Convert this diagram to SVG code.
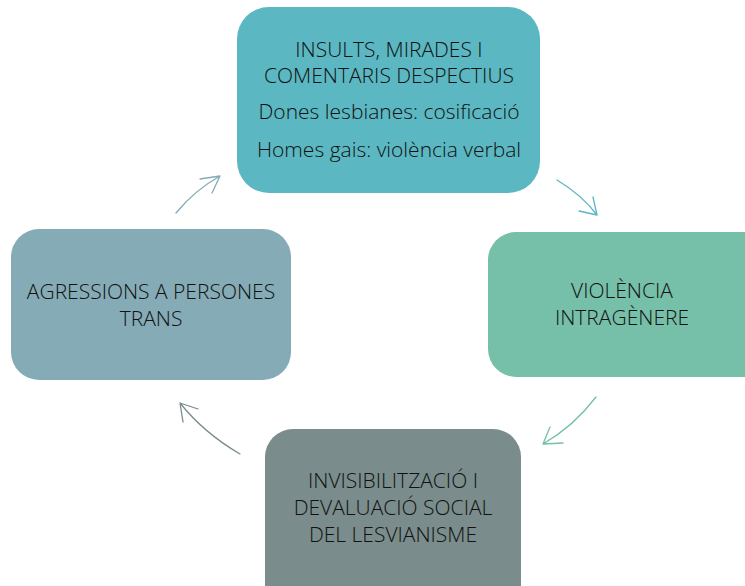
<svg xmlns="http://www.w3.org/2000/svg" width="745" height="586" viewBox="0 0 745 586">
<style>
text{font-family:"Open Sans","Noto Sans",sans-serif;font-weight:300;font-size:21px;fill:#111;text-anchor:middle}
.c{fill:none;stroke-width:1.3;stroke-linecap:round;stroke-linejoin:round}
</style>
<rect width="745" height="586" fill="#fff"/>
<g id="connectors">
<path class="c" stroke="#5BB7C1" d="M557,180 Q582,195 597,215 M579,211 L597,215 L593,197"/>
<path class="c" stroke="#76BFA8" d="M596,397 Q574,426 543,444 M563,443 L543,444 L550,427"/>
<path class="c" stroke="#7A8C8C" d="M240,454 Q204,433 180,403 M198,409 L180,403 L183,422"/>
<path class="c" stroke="#84ABB6" d="M176,213 Q195,190 220,176 M200,179 L220,176 L212,193"/>
</g>
<g id="node-top">
<rect x="237" y="7" width="303" height="186" rx="32" fill="#5BB7C1"/>
<text x="389" y="57">INSULTS, MIRADES I</text>
<text x="389" y="83">COMENTARIS DESPECTIUS</text>
<text x="389" y="119">Dones lesbianes: cosificació</text>
<text x="389" y="157">Homes gais: violència verbal</text>
</g>
<g id="node-right">
<rect x="488" y="232" width="290" height="145" rx="28" fill="#76BFA8"/>
<text x="622" y="298">VIOLÈNCIA</text>
<text x="622" y="325">INTRAGÈNERE</text>
</g>
<g id="node-bottom">
<rect x="265" y="429" width="256" height="190" rx="28" fill="#7A8C8C"/>
<text x="393" y="488">INVISIBILITZACIÓ I</text>
<text x="393" y="515">DEVALUACIÓ SOCIAL</text>
<text x="393" y="542">DEL LESVIANISME</text>
</g>
<g id="node-left">
<rect x="11" y="229" width="280" height="151" rx="28" fill="#84ABB6"/>
<text x="151" y="299">AGRESSIONS A PERSONES</text>
<text x="151" y="326">TRANS</text>
</g>
</svg>
